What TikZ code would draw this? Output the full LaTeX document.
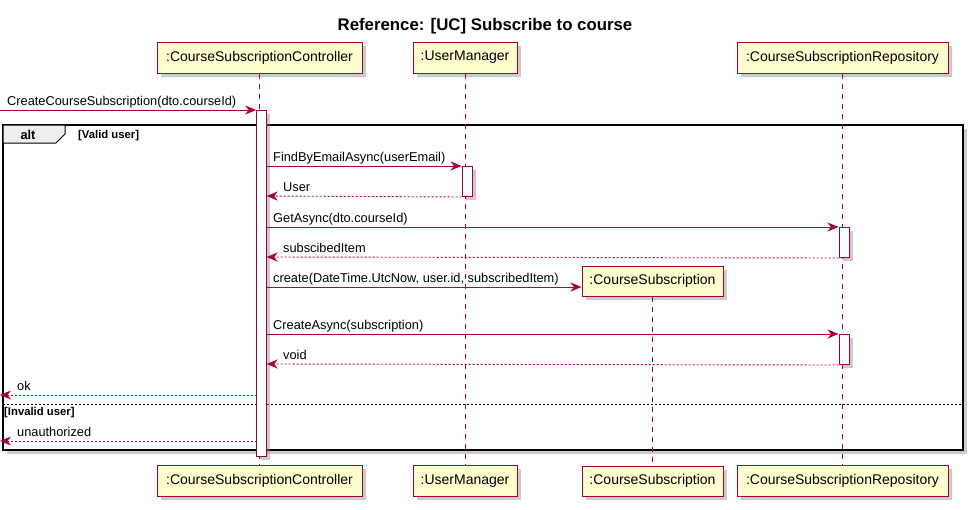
\documentclass[tikz,border=0pt]{standalone}
\usepackage{fontspec}
\setmainfont{Liberation Sans}
\usetikzlibrary{arrows.meta,shadows}
\definecolor{pline}{HTML}{A80036}
\definecolor{pfill}{HTML}{FEFECE}
\definecolor{tabfill}{HTML}{EEEEEE}
\tikzset{
  shad/.style={drop shadow={shadow xshift=3.5pt,shadow yshift=-3.5pt,opacity=0.45,fill=black!45}},
  part/.style={draw=pline,fill=pfill,line width=1pt,shad,inner sep=0pt,minimum height=31pt,
    font=\fontsize{14}{16}\selectfont,text=black},
  life/.style={draw=pline,line width=0.8pt,dash pattern=on 5pt off 5pt},
  actbar/.style={draw=pline,fill=white,line width=1pt,shad,inner sep=0pt,minimum width=10pt},
  msg/.style={draw=pline,line width=0.9pt,-{Stealth[length=11pt,width=9pt,inset=3.5pt]}},
  ret/.style={msg,dash pattern=on 2pt off 2pt},
  mlabel/.style={font=\fontsize{12.8}{14}\selectfont,anchor=base west,inner sep=0pt},
  glabel/.style={font=\bfseries\fontsize{11.3}{13}\selectfont,anchor=base west,inner sep=0pt}
}
\begin{document}
\begin{tikzpicture}[x=1pt,y=-1pt]
\useasboundingbox (0,0) rectangle (974,509);
% title
\node[font=\bfseries\fontsize{16.8}{20}\selectfont,anchor=base] (title) at (485,30) {Reference: [UC] Subscribe to course};
% alt frame
\draw[line width=1.6pt,shad,fill=white] (3,125) rectangle (963,450);
\filldraw[draw=black,fill=tabfill,line width=1pt] (3,125) -- (65,125) -- (65,134) -- (56,143) -- (3,143) -- cycle;
\node[font=\bfseries\fontsize{12.8}{14}\selectfont,anchor=base] (altlbl) at (28,139) {alt};
\node[glabel] (g1) at (78,138) {[Valid user]};
\draw[line width=0.8pt,dash pattern=on 2pt off 2pt] (3,404) coordinate (dvl) -- (963,404) coordinate (dvr);
\node[glabel] (g2) at (4,415) {[Invalid user]};
% participants
\node[part,minimum width=205pt] (ctrl) at (259.5,57.5) {:CourseSubscriptionController};
\node[part,minimum width=104pt] (um) at (465,57.5) {:UserManager};
\node[part,minimum width=211pt] (repo) at (842.5,57.5) {:CourseSubscriptionRepository};
\node[part,minimum width=205pt] (ctrlB) at (259.5,481) {:CourseSubscriptionController};
\node[part,minimum width=104pt] (umB) at (465,481) {:UserManager};
\node[part,minimum width=141pt,minimum height=30pt] (csB) at (652.5,481) {:CourseSubscription};
\node[part,minimum width=211pt] (repoB) at (842.5,481) {:CourseSubscriptionRepository};
\node[part,minimum width=141pt,minimum height=30pt] (cs) at (652.5,281) {:CourseSubscription};
% lifelines
\draw[life] (ctrl.south) -- (ctrlB.north);
\draw[life] (um.south) -- (umB.north);
\draw[life] (repo.south) -- (repoB.north);
\draw[life] (cs.south) -- (csB.north);
% activation bars
\node[actbar,minimum height=346pt,anchor=north] (actC) at (261.7,110) {};
\node[actbar,minimum height=30pt,anchor=north] (actU) at (467,166) {};
\node[actbar,minimum height=30pt,anchor=north] (actR1) at (844,227) {};
\node[actbar,minimum height=30pt,anchor=north] (actR2) at (844,334) {};
% endpoints
\coordinate (ext1) at (0,110);
\coordinate (c166) at (266.7,166);
\coordinate (c196) at (266.7,196);
\coordinate (c227) at (266.7,227);
\coordinate (c257) at (266.7,257);
\coordinate (c287) at (266.7,287);
\coordinate (c334) at (266.7,334);
\coordinate (c364) at (266.7,364);
\coordinate (c395) at (256.7,395);
\coordinate (c441) at (256.7,441);
\coordinate (ext9) at (0,395);
\coordinate (ext10) at (0,441);
% messages
\draw[msg] (ext1) -- (actC.north west);
\node[mlabel] (l1) at (7,105) {CreateCourseSubscription(dto.courseId)};
\draw[msg] (c166) -- (actU.north west);
\node[mlabel] (l2) at (273,161) {FindByEmailAsync(userEmail)};
\draw[ret] (actU.south west) -- (c196);
\node[mlabel] (l3) at (283,191) {User};
\draw[msg] (c227) -- (actR1.north west);
\node[mlabel] (l4) at (273,222) {GetAsync(dto.courseId)};
\draw[ret] (actR1.south west) -- (c257);
\node[mlabel] (l5) at (283,252) {subscibedItem};
\draw[msg] (c287) -- (cs.west |- c287);
\node[mlabel] (l6) at (273,282) {create(DateTime.UtcNow, user.id, subscribedItem)};
\draw[msg] (c334) -- (actR2.north west);
\node[mlabel] (l7) at (273,329) {CreateAsync(subscription)};
\draw[ret] (actR2.south west) -- (c364);
\node[mlabel] (l8) at (283,359) {void};
\draw[ret] (c395) -- (ext9);
\node[mlabel] (l9) at (17,390) {ok};
\draw[ret] (c441) -- (ext10);
\node[mlabel] (l10) at (17,436) {unauthorized};
\end{tikzpicture}
\end{document}
